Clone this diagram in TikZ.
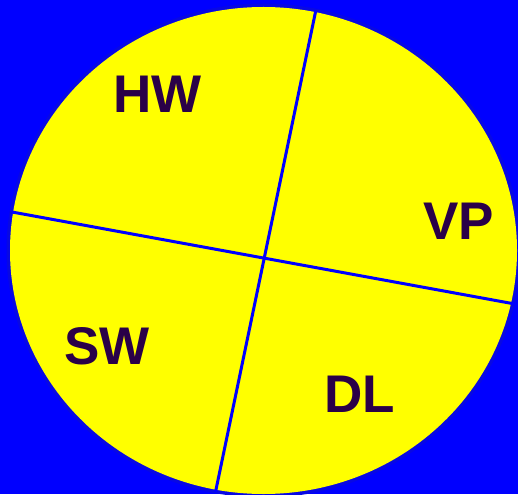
\documentclass[tikz,border=0pt]{standalone}
\usepackage{fontspec}
\setmainfont{Liberation Sans}
\definecolor{bgblue}{RGB}{0,0,255}
\definecolor{halo}{RGB}{8,8,228}
\definecolor{pieyellow}{RGB}{255,255,0}
\definecolor{labelcol}{RGB}{42,0,72}
\tikzset{
  divider/.style={draw=bgblue, line width=3pt},
  sector/.style={font=\fontsize{53}{60}\selectfont\bfseries, text=labelcol, inner sep=0pt, anchor=center}
}
\begin{document}
\begin{tikzpicture}[x=1pt,y=-1pt]
  \useasboundingbox (0,0) rectangle (518,494);
  \fill[bgblue] (0,0) rectangle (518,494);
  \fill[halo] (263.5,250.5) ellipse [x radius=257, y radius=247];
  \fill[pieyellow] (263.5,250.5) ellipse [x radius=253.5, y radius=243.5];
  \coordinate (t) at (315.7,11);
  \coordinate (b) at (215.5,492);
  \coordinate (l) at (12,212);
  \coordinate (r) at (516.5,304.3);
  \draw[divider] (t) -- (b);
  \draw[divider] (l) -- (r);
  \node[sector] (hw) at (157.5,94) {HW};
  \node[sector] (vp) at (458.5,221.5) {VP};
  \node[sector] (sw) at (107,346.5) {SW};
  \node[sector] (dl) at (359.5,394) {DL};
\end{tikzpicture}
\end{document}
